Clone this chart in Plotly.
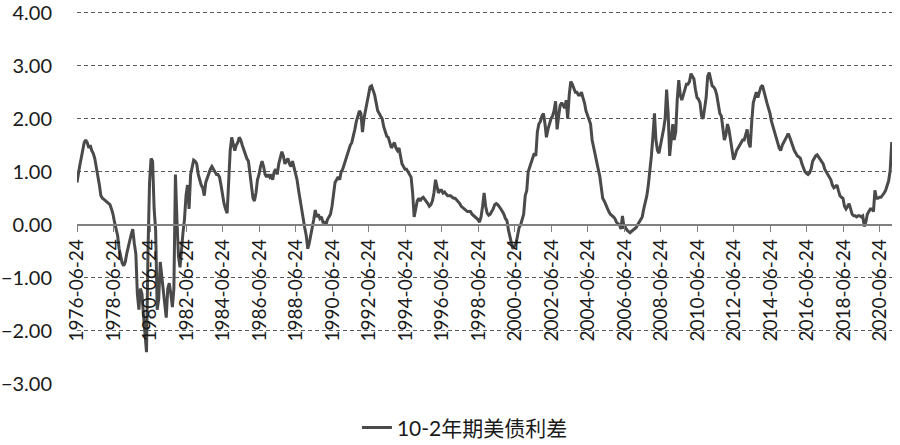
import plotly.graph_objects as go

# ---- data (monthly readings of the 10y-2y US Treasury spread, %) ----
start_date = "1976-06-24"
month_dates = [f"{y}-{m:02d}-15" for y in range(1976, 2022) for m in range(1, 13)
               if (1976, 7) <= (y, m) <= (2021, 2)]
dates = [start_date] + month_dates

spread_1976_1979 = [
    0.80,                                   # 1976-06-24
    0.95, 1.10, 1.25, 1.40, 1.55, 1.60,     # 1976 Jul-Dec
    1.55, 1.45, 1.50, 1.40, 1.35, 1.25, 1.10, 0.93, 0.75, 0.55, 0.50, 0.48,   # 1977
    0.45, 0.42, 0.40, 0.38, 0.30, 0.20, 0.05, -0.05, -0.20, -0.45, -0.60, -0.72,  # 1978
    -0.77, -0.70, -0.55, -0.40, -0.30, -0.18, -0.08, -0.35, -0.55, -1.30, -1.60, -1.20,  # 1979
]
spread_1980s = [
    -1.30, -1.70, -2.00, -2.40, -0.50, 0.80, 1.25, 1.20, 0.30, -0.10, -1.60, -1.40,  # 1980
    -0.70, -1.00, -1.20, -1.60, -1.75, -1.20, -1.10, -1.30, -1.55, -1.20, 0.95, 0.10,  # 1981
    -0.60, -0.80, -0.45, -0.15, 0.10, 0.55, 0.75, 0.30, 0.95, 1.10, 1.22, 1.20,  # 1982
    1.15, 0.95, 0.85, 0.75, 0.70, 0.55, 0.80, 0.90, 0.98, 1.05, 1.10, 1.05,  # 1983
    1.00, 0.95, 0.95, 0.90, 0.75, 0.55, 0.40, 0.30, 0.22, 0.80, 1.40, 1.65,  # 1984
    1.55, 1.40, 1.50, 1.55, 1.65, 1.60, 1.50, 1.40, 1.35, 1.25, 1.20, 1.00,  # 1985
    0.75, 0.50, 0.45, 0.60, 0.85, 0.95, 1.10, 1.20, 1.10, 0.95, 0.90, 0.95,  # 1986
    0.90, 0.95, 0.85, 1.00, 1.05, 0.95, 1.15, 1.30, 1.38, 1.30, 1.15, 1.20,  # 1987
    1.25, 1.15, 1.10, 1.20, 1.10, 1.00, 0.85, 0.65, 0.45, 0.35, 0.15, -0.05,  # 1988
    -0.20, -0.45, -0.35, -0.15, -0.05, 0.10, 0.28, 0.15, 0.20, 0.12, 0.15, 0.05,  # 1989
]
spread_1990s = [
    0.05, 0.00, 0.10, 0.15, 0.20, 0.35, 0.55, 0.80, 0.85, 0.90, 0.85, 1.00,  # 1990
    1.05, 1.15, 1.25, 1.35, 1.45, 1.50, 1.55, 1.65, 1.80, 1.95, 2.05, 2.15,  # 1991
    2.10, 1.75, 2.00, 2.20, 2.30, 2.45, 2.60, 2.62, 2.55, 2.45, 2.30, 2.15,  # 1992
    2.10, 2.05, 2.00, 1.85, 1.75, 1.67, 1.65, 1.55, 1.45, 1.50, 1.55, 1.45,  # 1993
    1.40, 1.45, 1.30, 1.15, 1.10, 1.05, 1.05, 1.00, 0.95, 0.90, 0.60, 0.15,  # 1994
    0.30, 0.45, 0.50, 0.45, 0.50, 0.52, 0.48, 0.45, 0.40, 0.35, 0.38, 0.45,  # 1995
    0.60, 0.85, 0.70, 0.60, 0.65, 0.65, 0.60, 0.62, 0.58, 0.55, 0.55, 0.55,  # 1996
    0.52, 0.50, 0.50, 0.47, 0.45, 0.40, 0.35, 0.32, 0.30, 0.28, 0.25, 0.25,  # 1997
    0.25, 0.20, 0.18, 0.15, 0.12, 0.10, 0.05, 0.15, 0.35, 0.60, 0.35, 0.22,  # 1998
    0.18, 0.20, 0.25, 0.30, 0.38, 0.40, 0.38, 0.35, 0.30, 0.25, 0.20, 0.12,  # 1999
]
spread_2000s = [
    0.08, -0.10, -0.25, -0.35, -0.45, -0.40, -0.35, -0.20, -0.05, 0.00, 0.10, 0.20,  # 2000
    0.55, 0.65, 1.00, 1.10, 1.20, 1.30, 1.35, 1.30, 1.75, 1.90, 1.95, 2.05,  # 2001
    2.10, 1.90, 1.65, 1.80, 1.90, 2.00, 2.05, 2.15, 2.33, 1.80, 2.05, 2.25,  # 2002
    2.30, 2.25, 2.20, 2.35, 2.00, 2.45, 2.70, 2.65, 2.55, 2.50, 2.50, 2.45,  # 2003
    2.45, 2.50, 2.40, 2.30, 2.15, 2.05, 1.95, 1.90, 1.60, 1.45, 1.35, 1.20,  # 2004
    1.05, 0.92, 0.70, 0.50, 0.45, 0.38, 0.30, 0.25, 0.20, 0.18, 0.15, 0.12,  # 2005
    0.05, 0.02, 0.00, -0.08, 0.17, -0.05, -0.05, -0.10, -0.12, -0.15, -0.12, -0.10,  # 2006
    -0.08, -0.05, 0.00, 0.05, 0.10, 0.15, 0.30, 0.40, 0.55, 0.75, 0.98, 1.30,  # 2007
    1.67, 2.10, 1.60, 1.40, 1.35, 1.50, 1.60, 1.80, 2.00, 2.55, 2.10, 1.30,  # 2008
    1.60, 1.90, 1.60, 1.75, 2.35, 2.73, 2.45, 2.35, 2.45, 2.55, 2.65, 2.65,  # 2009
]
spread_2010s = [
    2.70, 2.85, 2.80, 2.75, 2.55, 2.40, 2.37, 2.30, 2.05, 2.00, 2.20, 2.40,  # 2010
    2.80, 2.87, 2.75, 2.62, 2.60, 2.55, 2.45, 2.25, 2.10, 2.05, 1.85, 1.60,  # 2011
    1.70, 1.90, 1.80, 1.60, 1.40, 1.23, 1.30, 1.40, 1.45, 1.50, 1.55, 1.60,  # 2012
    1.60, 1.70, 1.80, 1.55, 1.46, 1.95, 2.30, 2.40, 2.50, 2.40, 2.50, 2.60,  # 2013
    2.63, 2.50, 2.40, 2.30, 2.20, 2.10, 1.95, 1.85, 1.75, 1.70, 1.55, 1.45,  # 2014
    1.40, 1.50, 1.55, 1.60, 1.65, 1.72, 1.65, 1.55, 1.50, 1.40, 1.35, 1.30,  # 2015
    1.28, 1.25, 1.15, 1.05, 1.00, 0.97, 0.95, 0.98, 1.05, 1.20, 1.25, 1.30,  # 2016
    1.32, 1.28, 1.25, 1.20, 1.15, 1.05, 1.00, 0.95, 0.90, 0.85, 0.75, 0.70,  # 2017
    0.72, 0.75, 0.65, 0.55, 0.52, 0.50, 0.35, 0.30, 0.35, 0.40, 0.30, 0.20,  # 2018
    0.17, 0.17, 0.15, 0.17, 0.17, 0.15, 0.17, -0.03, 0.05, 0.20, 0.25, 0.30,  # 2019
]
spread_2020s = [
    0.30, 0.25, 0.65, 0.50, 0.50, 0.52, 0.52, 0.55, 0.60, 0.65, 0.75, 0.83,  # 2020
    1.03, 1.56,  # 2021 Jan-Feb
]
values = spread_1976_1979 + spread_1980s + spread_1990s + spread_2000s + spread_2010s + spread_2020s

tick_dates = [f"{y}-06-24" for y in range(1976, 2021, 2)]
tick_labels = tick_dates
y_ticks = [-3, -2, -1, 0, 1, 2, 3, 4]
series_name = "10-2年期美债利差"

# ---- figure ----
FONT = "Lato, 'Noto Sans CJK SC', sans-serif"
y_min, y_max = -3, 4.05

fig = go.Figure()
fig.add_trace(go.Scatter(
    x=dates, y=values, mode="lines", name=series_name,
    line=dict(color="#4a4a4a", width=3),
))

fig.update_layout(
    width=900, height=445,
    margin=dict(l=77, r=8, t=10.35, b=61, pad=0, autoexpand=False),
    plot_bgcolor="white", paper_bgcolor="white",
    font=dict(family=FONT, color="#1a1a1a"),
    showlegend=True,
    legend=dict(orientation="h", x=0.476, xanchor="center", y=-0.117, yanchor="middle",
                font=dict(size=21, family=FONT, color="#1a1a1a")),
    xaxis=dict(
        type="date", range=["1976-06-24", "2021-02-20"],
        anchor="free", position=(0 - y_min) / (y_max - y_min),
        tickvals=tick_dates, ticktext=tick_labels, tickangle=-90,
        ticks="outside", ticklen=6, tickcolor="#808080", tickwidth=1,
        showline=True, linecolor="#808080", linewidth=1.5,
        showgrid=False, zeroline=False, automargin=False,
        ticklabeloverflow="allow",
        tickfont=dict(size=19, family=FONT, color="#1a1a1a"),
    ),
    yaxis=dict(
        range=[y_min, y_max], tickvals=y_ticks, tickformat=".2f",
        showgrid=True, gridcolor="#5a5a5a", gridwidth=1, griddash="4px,3px",
        zeroline=False, showline=False, ticks="", automargin=False,
        ticklabeloverflow="allow", ticklabelstandoff=24,
        tickfont=dict(size=20, family=FONT, color="#1a1a1a"),
    ),
)

fig.write_html("out.html", config={"displayModeBar": False},
               post_script="document.body.style.margin='0';")
